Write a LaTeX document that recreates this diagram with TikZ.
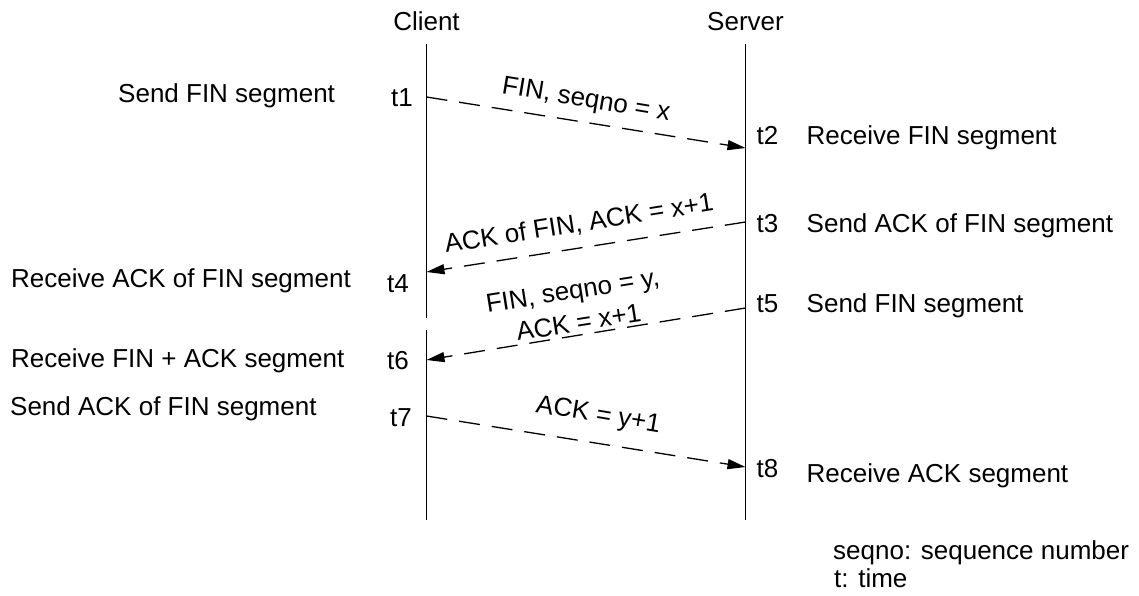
\documentclass[tikz,border=0pt]{standalone}
\usepackage{fontspec}
\setmainfont{Liberation Sans}
\usetikzlibrary{arrows.meta}
\begin{document}
\begin{tikzpicture}[x=1pt,y=-1pt,
  txt/.style={inner sep=0pt, anchor=base west, font=\fontsize{26}{31}\selectfont},
  head/.style={inner sep=0pt, anchor=base, font=\fontsize{26}{31}\selectfont},
  lifeline/.style={line width=1.4pt},
  msg/.style={line width=1.3pt, dash pattern=on 21pt off 12pt,
              -{Triangle[length=18pt,width=10pt]}},
]
\useasboundingbox (0,0) rectangle (1139,596);

% participants
\node[head] (client) at (426.5,31) {Client};
\node[head] (server) at (745.5,31) {Server};

% lifelines (the client line is broken between t4 and t6)
\coordinate (ctop) at (426.5,44);
\coordinate (cbreak1) at (426.5,318);
\coordinate (cbreak2) at (426.5,330);
\coordinate (cbot) at (426.5,520);
\coordinate (stop) at (745.5,44);
\coordinate (sbot) at (745.5,520);
\draw[lifeline] (ctop) -- (cbreak1);
\draw[lifeline] (cbreak2) -- (cbot);
\draw[lifeline] (stop) -- (sbot);

% event points on the lifelines
\coordinate (e1) at (426.5,97);
\coordinate (e2) at (745.5,148);
\coordinate (e3) at (745.5,222);
\coordinate (e4) at (426.5,272);
\coordinate (e5) at (745.5,308);
\coordinate (e6) at (426.5,360);
\coordinate (e7) at (426.5,416);
\coordinate (e8) at (745.5,467);

% messages
\draw[msg] (e1) -- (e2);
\draw[msg] (e3) -- (e4);
\draw[msg] (e5) -- (e6);
\draw[msg] (e7) -- (e8);

% message labels
\node[txt, rotate=-9.5] (m1) at (501,93) {FIN, seqno = x};
\node[txt, rotate=9] (m2) at (446,253) {ACK of FIN, ACK = x+1};
\node[head, rotate=9] (m3a) at (574,299) {FIN, seqno = y,};
\node[head, rotate=9] (m3b) at (580,331) {ACK = x+1};
\node[txt, rotate=-9.5] (m4) at (535,412) {ACK = y+1};

% client side
\node[txt] (a1) at (118,103) {Send FIN segment};
\node[txt] (t1) at (391,107) {t1};
\node[txt] (a4) at (11,287) {Receive ACK of FIN segment};
\node[txt] (t4) at (387,292) {t4};
\node[txt] (a6) at (11,367) {Receive FIN + ACK segment};
\node[txt] (t6) at (387,369) {t6};
\node[txt] (a7) at (10,415) {Send ACK of FIN segment};
\node[txt] (t7) at (390,426) {t7};

% server side
\node[txt] (t2) at (756.5,145) {t2};
\node[txt] (b2) at (806.5,145) {Receive FIN segment};
\node[txt] (t3) at (756.5,232) {t3};
\node[txt] (b3) at (806.5,232) {Send ACK of FIN segment};
\node[txt] (t5) at (756.5,312) {t5};
\node[txt] (b5) at (806.5,312) {Send FIN segment};
\node[txt] (t8) at (756.5,477) {t8};
\node[txt] (b8) at (806.5,482) {Receive ACK segment};

% legend
\node[txt] (k1) at (833,559) {seqno: sequence number};
\node[txt] (k2) at (834,587) {t: time};
\end{tikzpicture}
\end{document}
